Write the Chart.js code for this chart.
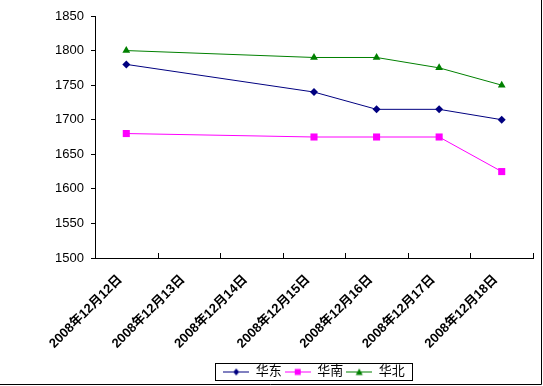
<!DOCTYPE html>
<html>
<head>
<meta charset="utf-8">
<script src="https://cdn.jsdelivr.net/npm/chart.js@4"></script>
<style>
  html, body { margin: 0; padding: 0; background: #fff; }
  #wrap { width: 543px; height: 386px; }
</style>
</head>
<body>
<div id="wrap"><canvas id="priceChart" width="543" height="386"></canvas></div>
<script>
// Données du graphique
const dates = ['2008年12月12日', '2008年12月13日', '2008年12月14日', '2008年12月15日',
               '2008年12月16日', '2008年12月17日', '2008年12月18日'];
const huadong = [1780, null, null, 1740, 1715, 1715, 1700];
const huanan  = [1680, null, null, 1675, 1675, 1675, 1625];
const huabei  = [1800, null, null, 1790, 1790, 1775, 1750];
const yTicks  = [1500, 1550, 1600, 1650, 1700, 1750, 1800, 1850];

const FONT = "'Liberation Sans', 'Noto Sans CJK SC', sans-serif";

// Petite image "ligne + marqueur" pour la légende
function legendIcon(color, style) {
    const c = document.createElement('canvas');
    c.width = 26; c.height = 10;
    const g = c.getContext('2d');
    g.strokeStyle = color; g.fillStyle = color; g.lineWidth = 1;
    g.beginPath(); g.moveTo(0, 5.5); g.lineTo(26, 5.5); g.stroke();
    g.beginPath();
    if (style === 'rectRot') {
        g.moveTo(13, 2); g.lineTo(16, 5.5); g.lineTo(13, 9); g.lineTo(10, 5.5);
    } else if (style === 'rect') {
        g.rect(10, 2.5, 6, 6);
    } else {
        g.moveTo(13, 2); g.lineTo(16.5, 8.5); g.lineTo(9.5, 8.5);
    }
    g.closePath(); g.fill();
    return c;
}

// Cadre (bord droit + bas), bordure de légende et petites graduations de l'axe X
const decorPlugin = {
    id: 'decor',
    afterDraw(chart) {
        const ctx = chart.ctx;
        ctx.save();
        ctx.strokeStyle = '#000';
        ctx.lineWidth = 1;
        ctx.beginPath();
        ctx.moveTo(541.5, 0); ctx.lineTo(541.5, 384.5); ctx.lineTo(0, 384.5);
        ctx.stroke();

        // graduations de l'axe X, vers l'intérieur
        const xs = chart.scales.x;
        const step = xs.getPixelForValue(1) - xs.getPixelForValue(0);
        const yb = chart.chartArea.bottom;
        ctx.beginPath();
        for (let i = 0; i <= dates.length; i++) {
            const px = Math.round(xs.getPixelForValue(0) - step / 2 + i * step) + 0.5;
            ctx.moveTo(px, yb); ctx.lineTo(px, yb - 5);
        }
        ctx.stroke();

        // bordure de la légende
        const lg = chart.legend;
        if (lg && lg.legendHitBoxes && lg.legendHitBoxes.length) {
            const hb = lg.legendHitBoxes;
            const left = Math.min(...hb.map(h => h.left)) - 8;
            const right = Math.max(...hb.map(h => h.left + h.width)) + 7;
            const top = Math.min(...hb.map(h => h.top)) - 2;
            const bottom = Math.max(...hb.map(h => h.top + h.height)) + 2;
            ctx.strokeRect(Math.round(left) + 0.5, Math.round(top) + 0.5,
                           Math.round(right - left), Math.round(bottom - top));
        }
        ctx.restore();
    }
};

const series = [
    { label: '华东', data: huadong, color: '#000080', style: 'rectRot', radius: 4 },
    { label: '华南', data: huanan,  color: '#FF00FF', style: 'rect',    radius: 5 },
    { label: '华北', data: huabei,  color: '#008000', style: 'triangle', radius: 4.5 }
];

document.addEventListener('DOMContentLoaded', function() {
    const ctx = document.getElementById('priceChart');
    new Chart(ctx.getContext('2d'), {
        type: 'line',
        data: {
            labels: dates,
            datasets: series.map(s => ({
                label: s.label,
                data: s.data,
                borderColor: s.color,
                backgroundColor: s.color,
                borderWidth: 1,
                pointStyle: s.style,
                pointRadius: s.radius,
                pointBorderWidth: 0,
                tension: 0,
                spanGaps: true
            }))
        },
        options: {
            responsive: false,
            animation: false,
            layout: { padding: { top: 16, right: 10, bottom: 0, left: 0 } },
            scales: {
                x: {
                    offset: true,
                    grid: { display: false },
                    border: { color: '#000', width: 1 },
                    ticks: {
                        autoSkip: false,
                        maxRotation: 45,
                        minRotation: 45,
                        padding: 6,
                        labelOffset: -6,
                        color: '#000',
                        font: { family: FONT, size: 13, weight: 'bold' }
                    },
                    afterFit: s => { s.height = 104; }
                },
                y: {
                    min: 1500,
                    max: 1850,
                    afterBuildTicks: s => { s.ticks = yTicks.map(v => ({ value: v })); },
                    grid: { drawOnChartArea: false, tickLength: 4, color: '#000' },
                    border: { color: '#000', width: 1 },
                    ticks: {
                        padding: 7,
                        color: '#000',
                        font: { family: FONT, size: 13 },
                        callback: v => String(v)
                    },
                    afterFit: s => { s.width = 95; }
                }
            },
            plugins: {
                legend: {
                    position: 'bottom',
                    fullSize: false,
                    maxHeight: 24,
                    labels: {
                        usePointStyle: true,
                        pointStyleWidth: 26,
                        padding: 3,
                        color: '#000',
                        font: { family: FONT, size: 13 },
                        generateLabels: chart => series.map((s, i) => ({
                            text: s.label,
                            pointStyle: legendIcon(s.color, s.style),
                            fillStyle: s.color,
                            strokeStyle: s.color,
                            lineWidth: 0,
                            hidden: false,
                            datasetIndex: i
                        }))
                    }
                },
                tooltip: { enabled: false }
            }
        },
        plugins: [decorPlugin]
    });
});
</script>
</body>
</html>
